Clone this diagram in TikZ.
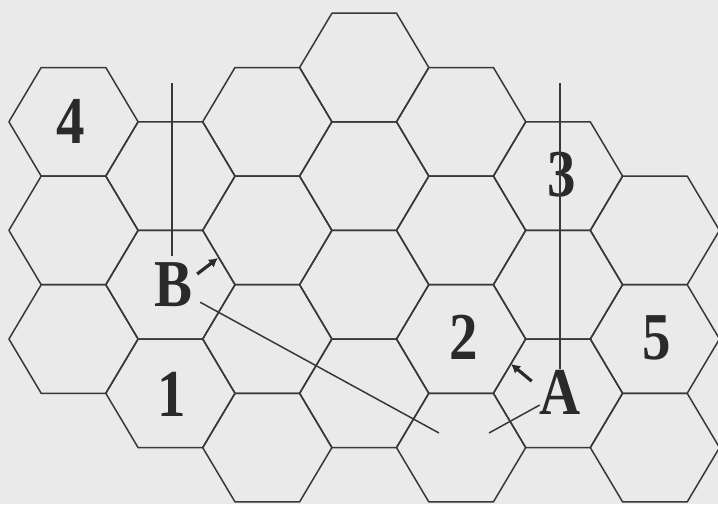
\documentclass[tikz,border=0pt]{standalone}
\usepackage{graphicx}
\usepackage{fontspec}
\newfontfamily\tagfont{Liberation Serif}
\usetikzlibrary{arrows.meta,calc}
\definecolor{paper}{HTML}{EAEAEA}
\definecolor{ink}{HTML}{2A2A2A}
\definecolor{edge}{HTML}{383838}
\newcommand{\hexR}{64.6}
\newcommand{\hexH}{54.3}

\begin{document}
\begin{tikzpicture}[x=1pt,y=-1pt,
  hexline/.style={edge,line width=1.5pt,line join=round},
  tag/.style={inner sep=0pt,text=ink,font=\tagfont\bfseries\fontsize{67}{67}\selectfont},
  guide/.style={edge,line width=1.5pt},
  push/.style={ink,line width=3.2pt,-{Latex[length=9pt,width=10pt]}}]
  \fill[paper] (0,0) rectangle (718,504);
  \useasboundingbox (0,0) rectangle (718,504);
  \clip (0,0) rectangle (718,504);
  % hex grid: {column}/{half rows}
  \foreach \c/\rows in {0/{2,4,6},1/{3,5,7},2/{2,4,6,8},3/{1,3,5,7},
                        4/{2,4,6,8},5/{3,5,7},6/{4,6,8}}{
    \foreach \n in \rows{
      \draw[hexline] (73.5+96.9*\c-\hexR,13.2+\hexH*\n) -- ++(\hexR/2,-\hexH) -- ++(\hexR,0)
        -- ++(\hexR/2,\hexH) -- ++(-\hexR/2,\hexH) -- ++(-\hexR,0) -- cycle;}}
  % hex numbers and the two points
  \foreach \lab/\x/\y in {4/70.5/121,3/561.5/175,1/172/394.5,2/463.5/337,
                          5/656.5/337.5,A/560.5/392.5,B/173/285}{
    \node[tag] (lbl\lab) at (\x,\y) {\scalebox{0.85}[1]{\lab}};}
  % lines of sight
  \coordinate (topB) at (172,83);
  \coordinate (topA) at (560,83);
  \coordinate (endB) at (439,433);
  \coordinate (endA) at (489,433);
  \coordinate (tipB) at (218,258);
  \coordinate (tipA) at (511,364);
  \draw[guide,shorten >=7pt] (topB) -- (topB |- lblB.north);
  \draw[guide,shorten >=1pt] (topA) -- (topA |- lblA.north);
  \draw[guide] ([shift={(8,-5)}]lblB.south east) -- (endB);
  \draw[guide] ([shift={(0,12.5)}]lblA.west) -- (endA);
  \draw[push] ([shift={(5,-11)}]lblB.east) -- (tipB);
  \draw[push] ([shift={(-8,11)}]lblA.north west) -- (tipA);
\end{tikzpicture}
\end{document}
